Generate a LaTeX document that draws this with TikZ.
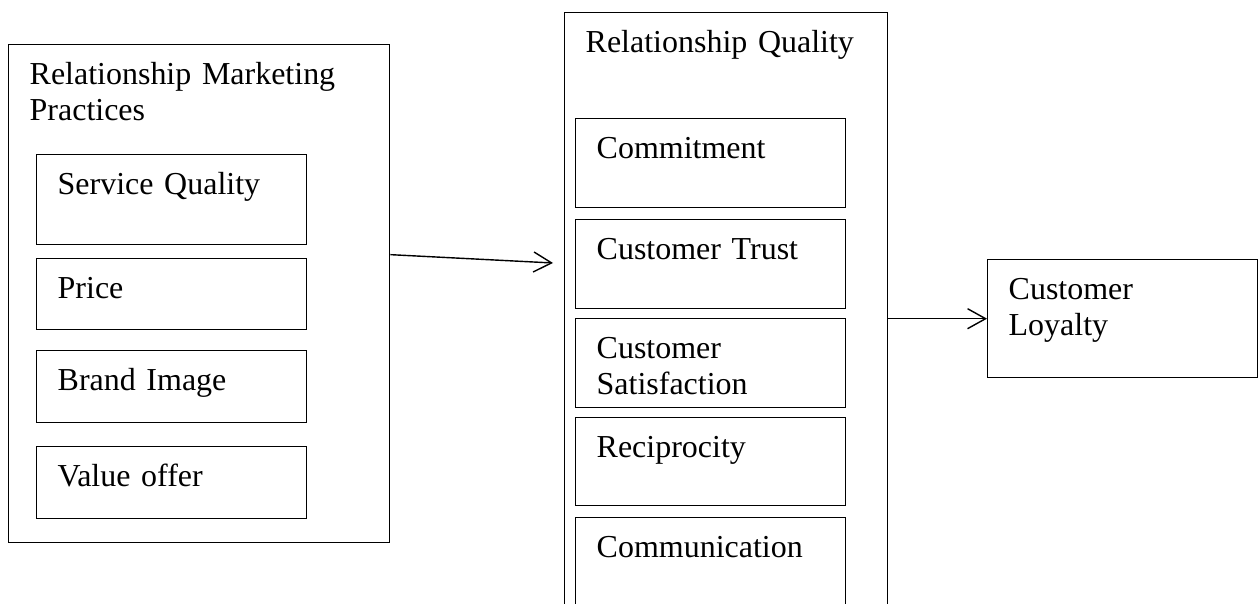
\documentclass[tikz,border=0pt]{standalone}
\usepackage{fontspec}
\setmainfont{Liberation Serif}
\usetikzlibrary{arrows.meta}
\begin{document}
\begin{tikzpicture}[x=0.02cm,y=-0.02cm,
  every node/.style={font=\fontsize{18.2}{20.5}\selectfont},
  box/.style 2 args={draw, line width=0.8pt, anchor=north west, align=left,
    inner xsep=0.42cm, inner ysep=0pt, text height=0.8cm,
    text width=#1, text depth=#2},
  arr/.style={-{Straight Barb[length=0.36cm,width=0.4cm]}, line width=0.8pt}]
\useasboundingbox (0,0) rectangle (1258,604);
\node[box={6.78cm}{9.16cm}] (rmp) at (8,44) {Relationship Marketing\\Practices};
\node[box={4.56cm}{1.0cm}] (sq) at (36,154) {Service Quality};
\node[box={4.56cm}{0.62cm}] (pr) at (36,258) {Price};
\node[box={4.56cm}{0.64cm}] (bi) at (36,350) {Brand Image};
\node[box={4.56cm}{0.64cm}] (vo) at (36,446) {Value offer};
\node[box={5.62cm}{11.52cm}] (rq) at (564,12) {Relationship Quality};
\node[box={4.56cm}{0.98cm}] (com) at (575,118) {Commitment};
\node[box={4.56cm}{0.98cm}] (ct) at (575,219) {Customer Trust};
\node[box={4.56cm}{0.98cm}] (cs) at (575,318) {Customer\\Satisfaction};
\node[box={4.56cm}{0.96cm}] (rec) at (575,417) {Reciprocity};
\node[box={4.56cm}{1.2cm}] (cmm) at (575,517) {Communication};
\node[box={4.56cm}{1.56cm}] (cl) at (987,259) {Customer\\Loyalty};
\coordinate (rqin) at (553,263);
\draw[arr] ([yshift=0.78cm]rmp.east) -- (rqin);
\draw[arr] (rq.east |- cl.west) -- (cl.west);
\end{tikzpicture}
\end{document}
